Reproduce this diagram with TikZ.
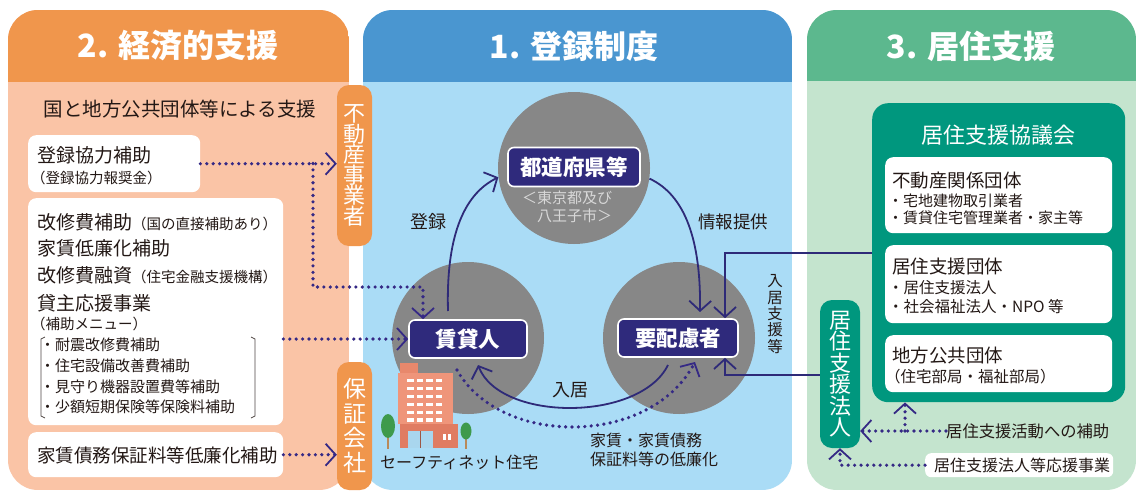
\documentclass[tikz,border=0pt]{standalone}
\usepackage{fontspec}
\setmainfont{Noto Sans CJK JP}
\usetikzlibrary{arrows.meta}

% palette
\definecolor{orhead}{HTML}{F0964C}
\definecolor{orbody}{HTML}{FAC4A6}
\definecolor{bluehead}{HTML}{4A96D0}
\definecolor{bluebody}{HTML}{AADCF6}
\definecolor{grhead}{HTML}{5CB88E}
\definecolor{grbody}{HTML}{C4E4CE}
\definecolor{tealbox}{HTML}{00977E}
\definecolor{circfill}{HTML}{878787}
\definecolor{navyfill}{HTML}{2F2A7C}
\definecolor{linecol}{HTML}{2E2A78}
\definecolor{dotcol}{HTML}{352985}
\definecolor{subtxt}{HTML}{D8D8D8}
\definecolor{bodytxt}{HTML}{231815}
\definecolor{bldg}{HTML}{EF957A}
\definecolor{bldgtop}{HTML}{E8886C}
\definecolor{bldgbase}{HTML}{E07C62}
\definecolor{doorcol}{HTML}{A9D6EE}
\definecolor{treecol}{HTML}{3E9A4C}
\definecolor{trunkcol}{HTML}{B98A5A}

\newcommand\fsz[1]{\fontsize{#1}{#1}\selectfont}

\tikzset{
  title/.style={text=white, font=\fsz{32}\bfseries, inner sep=0pt},
  txt/.style={text=bodytxt, inner sep=0pt, anchor=west},
  wbox/.style={fill=white, rounded corners=8pt, anchor=north west, inner sep=0pt},
  tabbox/.style={rounded corners=12pt, inner sep=0pt, text=white, align=center},
  navybox/.style={fill=navyfill, draw=white, line width=1.6pt, rounded corners=6pt,
    text=white, font=\fsz{21.5}\bfseries, inner sep=0pt, minimum height=38pt},
  circnode/.style={circle, fill=circfill, inner sep=0pt, minimum size=152pt},
  arr/.style={draw=linecol, line width=1.8pt,
    -{Straight Barb[length=10pt,width=22pt,line width=1.8pt]}},
  dotline/.style={draw=dotcol, line width=3.6pt, line cap=round,
    dash pattern=on 0pt off 6.4pt},
  dotarr/.style={dotline,
    -{Straight Barb[length=10pt,width=22pt,line width=1.8pt]}},
  brk/.style={draw=bodytxt!80, line width=0.8pt},
}

\begin{document}
\begin{tikzpicture}[x=1pt,y=-1pt]
\useasboundingbox (0,0) rectangle (1141,493);
\fill[white] (0,0) rectangle (1141,493);

% ---------- three panels ----------
\begin{scope}
  \clip[rounded corners=30pt] (8,10) rectangle (349,490);
  \fill[orbody] (8,10) rectangle (349,490);
  \fill[orhead] (8,10) rectangle (349,82);
\end{scope}
\begin{scope}
  \clip[rounded corners=30pt] (363,10) rectangle (792,490);
  \fill[bluebody] (363,10) rectangle (792,490);
  \fill[bluehead] (363,10) rectangle (792,82);
\end{scope}
\begin{scope}
  \clip[rounded corners=30pt] (807,10) rectangle (1136,490);
  \fill[grbody] (807,10) rectangle (1136,490);
  \fill[grhead] (807,10) rectangle (1136,81);
\end{scope}

\node[title] (t2) at (178,46) {2. 経済的支援};
\node[title] (t1) at (574,46) {1. 登録制度};
\node[title] (t3) at (971,46) {3. 居住支援};

% ---------- 2. financial support ----------
\node[text=bodytxt, inner sep=0pt, font=\fsz{19.5}] (lsub) at (180,109) {国と地方公共団体等による支援};

\node[wbox, minimum width=172pt, minimum height=57pt] (b1) at (28,135) {};
\node[txt, font=\fsz{19}] (b1a) at (37,155) {登録協力補助};
\node[txt, font=\fsz{14.5}] (b1b) at (31,178) {（登録協力報奨金）};

\node[wbox, minimum width=255pt, minimum height=227pt] (b2) at (28,198) {};
\node[txt] (b2a) at (37,222) {{\fsz{19}改修費補助}{\fsz{14.5}（国の直接補助あり）}};
\node[txt, font=\fsz{19}] (b2b) at (37,248) {家賃低廉化補助};
\node[txt] (b2c) at (37,275) {{\fsz{19}改修費融資}{\fsz{14.5}（住宅金融支援機構）}};
\node[txt, font=\fsz{19}] (b2d) at (37,303) {貸主応援事業};
\node[txt, font=\fsz{14.5}] (b2e) at (31,324) {（補助メニュー）};
\node[txt, font=\fsz{15}] (b2f) at (40,345) {・耐震改修費補助};
\node[txt, font=\fsz{15}] (b2g) at (40,366) {・住宅設備改善費補助};
\node[txt, font=\fsz{15}] (b2h) at (40,387) {・見守り機器設置費等補助};
\node[txt, font=\fsz{15}] (b2i) at (40,407) {・少額短期保険等保険料補助};
\draw[brk] (45,337) -- (41,339) -- (41,416) -- (45,418);
\draw[brk] (251,337) -- (255,339) -- (255,416) -- (251,418);

\node[wbox, minimum width=255pt, minimum height=45pt] (b3) at (28,432) {};
\node[txt, font=\fsz{18.5}] (b3a) at (37,455) {家賃債務保証料等低廉化補助};

% side tabs
\node[tabbox, fill=orhead, minimum width=35pt, minimum height=161pt,
  font=\fontsize{22}{20.5}\selectfont] (tab1) at (354.5,165.5) {不\\動\\産\\事\\業\\者};
\node[tabbox, fill=orhead, minimum width=35pt, minimum height=128pt,
  font=\fontsize{23}{24.5}\selectfont] (tab2) at (354.5,426) {保\\証\\会\\社};

% ---------- 1. registration ----------
\node[circnode] (c1) at (574,168) {};
\node[circnode] (c2) at (468,338) {};
\node[circnode] (c3) at (679,338) {};

\node[navybox, minimum width=132pt, minimum height=39pt] (pref) at (574,167) {都道府県等};
\node[anchor=north west, inner sep=0pt, align=left, text=subtxt,
  font=\fontsize{15}{18}\selectfont] (prefsub) at (522,191) {＜東京都及び\\　八王子市＞};
\node[navybox, minimum width=118pt] (lessor) at (468,339) {賃貸人};
\node[navybox, minimum width=120pt] (needy) at (678,338) {要配慮者};

% building
\fill[bldgtop] (400,363) rectangle (418,374);
\fill[bldg] (398,373) rectangle (453,424);
\foreach \wx in {407,416.5,426,435.5}
  \foreach \wy in {378.5,386.5,394.5,402.5,410.5,418}
    \fill[white] (\wx,\wy) rectangle ++(6.5,3.6);
\fill[bldgbase] (400,424) rectangle (458,448);
\fill[doorcol] (408,431) rectangle (433,448);
\draw[bldgbase!70!black, line width=0.6pt] (420.5,431) -- (420.5,448);
\fill[white] (443,434) rectangle (446,440);
\fill[white] (447.5,434) rectangle (450.5,440);
\fill[trunkcol] (387,436) rectangle (389.2,449);
\fill[treecol] (388,426) ellipse (7pt and 12pt);
\fill[trunkcol] (465,436) rectangle (467,449);
\fill[treecol] (466,431) ellipse (5.5pt and 8.5pt);
\node[txt, font=\fsz{16}] (sn) at (380,462) {セーフティネット住宅};

% arrows among the three parties
\coordinate (regA) at (448,311);
\draw[arr] (regA) .. controls (446,240) and (462,195) .. (c1.187);
\node[inner sep=0pt, text=bodytxt, font=\fsz{18}] (lreg) at (428,222) {登録};

\coordinate (infB) at (700,312);
\draw[arr] (c1.-8) .. controls (685,195) and (701,240) .. (infB);
\node[inner sep=0pt, text=bodytxt, font=\fsz{17.5}] (linf) at (733,222) {情報提供};

\coordinate (movA) at (668,365);
\coordinate (movB) at (478,365);
\draw[arr] (movA) .. controls (640,422) and (500,422) .. (movB);
\node[inner sep=0pt, text=bodytxt, font=\fsz{18}] (lmov) at (570,390) {入居};

\coordinate (lowA) at (457,370);
\coordinate (lowB) at (695,362);
\draw[dotarr] (lowA) .. controls (500,447) and (650,447) .. (lowB);
\node[anchor=north west, inner sep=0pt, align=left, text=bodytxt,
  font=\fontsize{16}{19}\selectfont] (llow) at (590,433) {家賃・家賃債務\\保証料等の低廉化};

% dotted support arrows from panel 2
\draw[dotarr] (b1.east) -- (tab1.west |- b1.east);
\coordinate (br1) at (313,163.5);
\coordinate (br2) at (423,287);
\draw[dotarr] (br1) |- (br2) -- (br2 |- lessor.north);
\draw[dotarr] (b2.east |- lessor.west) -- (lessor.west);
\draw[dotarr] (b3.east) -- (tab2.west |- b3.east);

% ---------- 3. housing support ----------
\node[fill=tealbox, rounded corners=16pt, anchor=north west, inner sep=0pt,
  minimum width=253pt, minimum height=299pt] (council) at (872,103) {};
\node[text=white, inner sep=0pt, font=\fsz{22}] (counciltitle) at (998,135) {居住支援協議会};

\node[wbox, minimum width=227pt, minimum height=76pt] (ra) at (885,157) {};
\node[txt, font=\fsz{18.5}] (ra1) at (892,181) {不動産関係団体};
\node[txt, font=\fsz{15}] (ra2) at (888,201) {・宅地建物取引業者};
\node[txt, font=\fsz{15}] (ra3) at (888,218) {・賃貸住宅管理業者・家主等};

\node[wbox, minimum width=227pt, minimum height=78pt] (rb) at (885,245) {};
\node[txt, font=\fsz{18.5}] (rb1) at (892,266) {居住支援団体};
\node[txt, font=\fsz{15.5}] (rb2) at (888,288) {・居住支援法人};
\node[txt, font=\fsz{15.5}] (rb3) at (888,307) {・社会福祉法人・NPO 等};

\node[wbox, minimum width=227pt, minimum height=57pt] (rc) at (885,335) {};
\node[txt, font=\fsz{18.5}] (rc1) at (892,355) {地方公共団体};
\node[txt, font=\fsz{15.5}] (rc2) at (885,377) {（住宅部局・福祉部局）};

\node[tabbox, fill=tealbox, minimum width=40pt, minimum height=148pt,
  font=\fontsize{22}{21.5}\selectfont] (corp) at (840,374) {居\\住\\支\\援\\法\\人};

\node[txt, font=\fsz{16.3}] (aid) at (946,431) {居住支援活動への補助};
\draw[dotarr] (aid.west) -- (corp.east |- aid.west);
\coordinate (br3) at (905,431);
\draw[dotarr] (br3) -- (br3 |- council.south);

\node[wbox, rounded corners=6pt, minimum width=188pt, minimum height=24pt] (cheer) at (925,453) {};
\node[txt, font=\fsz{16}] (cheertxt) at (934,465) {居住支援法人等応援事業};
\draw[dotarr] (cheer.west) -- (cheer.west -| corp.south) -- (corp.south);

% move-in support links
\node[inner sep=0pt, align=center, text=bodytxt,
  font=\fontsize{15.5}{16.4}\selectfont] (lsup) at (775,314) {入\\居\\支\\援\\等};
\coordinate (k1) at (725,253);
\coordinate (k2) at (725,375);
\draw[arr] (council.west |- k1) -- (k1) -- (k1 |- needy.north);
\draw[arr] (corp.west |- k2) -- (k2) -- (k2 |- needy.south);

\end{tikzpicture}
\end{document}
